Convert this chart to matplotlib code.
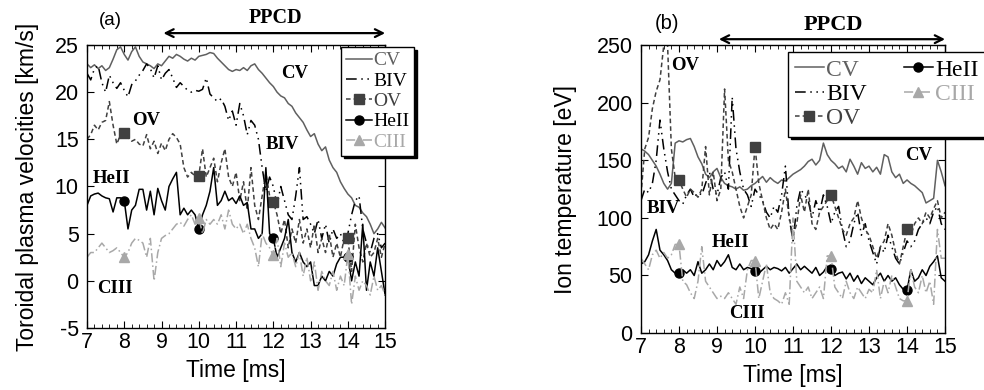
import numpy as np
import matplotlib
matplotlib.use('Agg')
import matplotlib.pyplot as plt
from matplotlib.ticker import AutoMinorLocator

plt.rcParams['font.family'] = 'Liberation Sans'
plt.rcParams['axes.unicode_minus'] = False

# time axis, 0.1 ms sampling
t = np.round(np.arange(7.0, 15.01, 0.1), 1)

# (a) toroidal plasma velocities [km/s]
vel_cv = [23.0, 22.6, 22.9, 22.5, 22.8, 22.3, 22.6, 23.5, 24.5, 24.8,
          24.0, 23.4, 24.3, 24.8, 23.8, 23.2, 23.0, 22.8, 22.5, 23.0,
          22.8, 23.3, 23.8, 23.6, 24.0, 23.8, 23.5, 23.3, 23.6, 23.4,
          23.8, 23.9, 24.0, 24.2, 24.1, 23.6, 23.2, 22.8, 22.4, 22.2,
          22.4, 22.3, 22.6, 22.3, 22.8, 23.0, 22.4, 22.0, 21.5, 21.0,
          20.6, 20.0, 19.6, 19.4, 18.8, 18.5, 17.8, 17.3, 16.8, 16.0,
          15.3, 15.6, 14.5, 13.8, 14.2, 12.8, 12.0, 11.5, 10.5, 9.8,
          9.2, 8.8, 8.0, 7.8, 7.2, 6.8, 6.0, 5.0, 5.5, 6.2, 5.6]
vel_biv = [22.0, 21.3, 22.5, 22.8, 21.0, 20.0, 21.8, 21.0, 20.4, 21.0,
           20.2, 19.5, 20.8, 21.2, 21.8, 22.3, 23.0, 22.5, 21.5, 22.8,
           21.3, 22.0, 22.4, 21.5, 20.5, 21.0, 20.6, 20.2, 20.0, 20.2,
           20.1, 20.3, 21.5, 19.8, 19.4, 19.0, 19.3, 18.5, 17.0, 18.0,
           16.5, 18.8, 17.5, 15.5, 17.0, 16.5, 15.0, 12.0, 9.5, 11.0,
           10.0, 8.0, 10.0, 8.5, 7.0, 6.5, 9.0, 12.0, 6.5, 6.8,
           6.0, 5.0, 6.5, 4.5, 6.0, 4.0, 5.5, 4.5, 5.0, 4.0,
           5.0, 7.0, 8.5, 9.0, 5.5, 4.0, 3.0, 4.5, 5.0, 3.5, 4.0]
vel_ov = [15.0, 15.5, 16.5, 16.0, 16.8, 17.0, 19.0, 16.5, 14.5, 15.5,
          15.7, 15.2, 14.8, 15.0, 14.5, 14.3, 15.5, 14.0, 14.8, 13.5,
          14.6, 13.8, 15.0, 15.6, 15.2, 14.5, 12.0, 11.0, 11.5, 11.1,
          11.1, 14.0, 11.0, 12.0, 13.0, 10.5, 12.5, 14.0, 11.0, 10.0,
          11.5, 8.5, 10.5, 7.5, 12.0, 8.0, 6.5, 9.0, 11.5, 9.0,
          8.4, 7.0, 5.0, 6.5, 3.5, 5.5, 4.0, 6.5, 4.0, 5.5,
          3.5, 6.0, 3.0, 4.5, 3.0, 5.0, 2.5, 4.0, 2.5, 4.5,
          4.5, 1.0, 6.0, 3.5, 2.0, 4.0, 2.5, 3.0, 4.5, 2.5, 4.0]
vel_heii = [8.0, 9.0, 9.2, 9.3, 9.0, 8.8, 8.7, 7.3, 8.8, 8.8,
            8.5, 5.5, 7.5, 8.0, 9.7, 9.7, 7.5, 9.5, 7.0, 9.8,
            8.5, 7.5, 10.0, 10.8, 11.5, 7.0, 7.7, 7.0, 7.5, 7.0,
            5.5, 7.0, 8.0, 9.5, 12.0, 8.0, 8.5, 9.5, 8.5, 8.8,
            8.2, 9.0, 8.0, 8.3, 5.5, 5.5, 4.5, 5.0, 12.0, 5.0,
            4.5, 2.5, 3.5, 4.5, 6.5, 3.0, 2.0, 3.0, 2.0, 1.5,
            2.0, -0.5, -0.5, 0.5, 0.0, 1.0, 0.5, 1.8, 2.5, 2.5,
            2.5, 0.0, 2.0, 0.5, 6.0, -1.0, 2.0, 0.5, 3.5, 1.0, -1.5]
vel_ciii = [2.5, 3.0, 3.0, 3.5, 4.0, 3.5, 3.0, 3.2, 3.5, 3.0,
            2.5, 3.0, 4.0, 4.5, 4.3, 4.0, 2.5, 4.5, 0.0, 3.0,
            4.5, 4.8, 5.0, 5.5, 6.0, 6.2, 5.8, 6.5, 7.0, 6.0,
            6.7, 5.0, 6.5, 6.0, 6.5, 6.0, 7.0, 5.5, 7.5, 6.0,
            5.5, 6.0, 5.0, 6.0, 4.5, 3.5, 1.5, 5.0, 4.0, 3.5,
            2.7, 4.5, 1.5, 4.0, 2.5, 3.0, 1.5, 3.0, 0.5, 2.5,
            0.0, 2.0, -1.0, 1.0, 0.0, -0.5, 1.0, -1.0, 0.5, -0.5,
            2.8, -2.5, 0.5, -1.0, 0.0, -0.5, -1.5, 0.5, -1.0, -0.5, -1.5]

# (b) ion temperature [eV]
ti_cv = [160, 158, 155, 150, 145, 138, 130, 125, 130, 165,
         167, 166, 168, 169, 162, 153, 147, 138, 135, 140,
         143, 135, 130, 128, 127, 125, 127, 124, 125, 128,
         130, 133, 136, 131, 135, 132, 130, 133, 132, 135,
         138, 140, 142, 145, 149, 151, 146, 150, 165, 155,
         150, 147, 143, 145, 140, 151, 145, 138, 148, 143,
         145, 140, 144, 138, 155, 153, 140, 135, 138, 130,
         133, 130, 128, 125, 122, 113, 115, 117, 150, 140, 128]
ti_biv = [115, 125, 122, 130, 150, 185, 160, 140, 125, 120,
          115, 112, 120, 125, 118, 122, 120, 130, 140, 125,
          120, 135, 140, 125, 205, 160, 140, 125, 120, 110,
          125, 120, 115, 105, 100, 110, 105, 120, 145, 100,
          80, 110, 125, 120, 115, 100, 115, 105, 120, 110,
          95, 105, 110, 90, 75, 80, 95, 105, 85, 95,
          80, 70, 60, 75, 70, 85, 75, 65, 60, 70,
          80, 75, 80, 90, 95, 100, 95, 105, 110, 95, 90]
ti_ov = [120, 160, 170, 195, 210, 220, 250, 250, 160, 135,
         133, 125, 118, 125, 122, 118, 125, 162, 120, 140,
         115, 125, 212, 150, 140, 125, 110, 100, 110, 120,
         162, 130, 115, 100, 90, 95, 90, 105, 125, 100,
         85, 95, 120, 105, 125, 95, 90, 105, 110, 115,
         120, 110, 100, 90, 85, 95, 100, 115, 100, 90,
         85, 75, 65, 75, 80, 95, 85, 70, 60, 75,
         90, 85, 95, 100, 95, 105, 100, 108, 115, 100, 105]
ti_heii = [60, 62, 68, 80, 90, 72, 68, 63, 55, 52,
           52, 55, 52, 55, 50, 62, 52, 55, 60, 55,
           63, 58, 62, 68, 57, 55, 60, 55, 57, 56,
           54, 52, 55, 58, 55, 57, 56, 54, 57, 52,
           56, 60, 55, 58, 55, 52, 57, 50, 53, 58,
           56, 50, 52, 53, 47, 52, 45, 50, 43, 48,
           45, 42, 48, 52, 45, 50, 45, 48, 42, 38,
           37, 55, 45, 48, 55, 50, 58, 62, 67, 48, 45]
ti_ciii = [65, 60, 55, 68, 72, 65, 70, 65, 68, 77,
           77, 45, 42, 35, 30, 45, 75, 45, 40, 35,
           30, 32, 30, 35, 30, 25, 40, 30, 55, 63,
           63, 30, 45, 60, 35, 30, 28, 25, 35, 25,
           100, 45, 40, 35, 40, 30, 35, 40, 30, 67,
           67, 40, 35, 30, 45, 35, 30, 40, 35, 30,
           38, 35, 55, 30, 45, 35, 50, 40, 30, 28,
           28, 55, 40, 35, 50, 35, 45, 25, 90, 65, 65]

mark_idx = [10, 30, 50, 70]

names = ['CV', 'BIV', 'OV', 'HeII', 'CIII']
colors = ['#606060', 'black', '#404040', 'black', '#a8a8a8']
styles = ['-', (0, (7, 3, 1, 3, 1, 3)), (0, (3, 2)), '-', (0, (6, 2, 1, 2))]
markers = [None, None, 's', 'o', '^']
msizes = [0, 0, 7, 6.5, 6.5]

fig = plt.figure(figsize=(9.84, 3.9), dpi=100)
ax1 = fig.add_axes([0.0884, 0.159, 0.303, 0.7256])
ax2 = fig.add_axes([0.6514, 0.146, 0.309, 0.738])

for ax, series in [(ax1, [vel_cv, vel_biv, vel_ov, vel_heii, vel_ciii]),
                   (ax2, [ti_cv, ti_biv, ti_ov, ti_heii, ti_ciii])]:
    for name, y, c, ls, m, ms in zip(names, series, colors, styles, markers, msizes):
        ax.plot(t, y, color=c, linestyle=ls, linewidth=1.1, marker=m,
                markevery=mark_idx, markersize=ms, label=name)

    ax.set_xlim(7, 15)
    ax.set_xticks(range(7, 16))
    ax.xaxis.set_minor_locator(AutoMinorLocator(5))
    ax.tick_params(which='both', direction='in', top=True, right=True, labelsize=15.5)
    ax.tick_params(which='major', length=5)
    ax.tick_params(which='minor', length=3)
    ax.tick_params(axis='x', pad=3)
    ax.tick_params(axis='y', pad=6)
    ax.set_xlabel('Time [ms]', fontsize=16.5, labelpad=4)
    for sp in ax.spines.values():
        sp.set_linewidth(1.0)

ax1.set_ylim(-5, 25)
ax1.set_yticks(range(-5, 26, 5))
ax1.set_ylabel('Toroidal plasma velocities [km/s]', fontsize=16.5, labelpad=11)
ax2.set_ylim(0, 250)
ax2.set_yticks(range(0, 251, 50))
ax2.set_ylabel('Ion temperature [eV]', fontsize=16.5, labelpad=14)

serif = 'Liberation Serif'
shadow = {'color': 'black', 'alpha': 1.0}
leg1 = ax1.legend(loc='upper left', bbox_to_anchor=(0.852, 0.993), borderaxespad=0,
                  prop={'family': serif, 'size': 14},
                  labelcolor='linecolor', handlelength=1.35, handletextpad=0.05, borderpad=0.25,
                  labelspacing=0.14, fancybox=False, framealpha=1, edgecolor='black', shadow=shadow)
leg1.get_frame().set_linewidth(1.0)
leg2 = ax2.legend(loc='upper left', bbox_to_anchor=(0.484, 0.976), borderaxespad=0, ncol=2,
                  prop={'family': serif, 'size': 17},
                  labelcolor='linecolor', handlelength=1.2, handletextpad=0.1, borderpad=0.3,
                  labelspacing=0.12, columnspacing=1.6, fancybox=False, framealpha=1,
                  edgecolor='black', shadow=shadow)
leg2.get_frame().set_linewidth(1.0)

# species labels
bold = dict(family=serif, fontweight='bold', fontsize=13.5, ha='center', va='center')
ax1.text(12.58, 22.0, 'CV', **bold)
ax1.text(8.6, 17.0, 'OV', **bold)
ax1.text(12.25, 14.4, 'BIV', **bold)
ax1.text(7.67, 10.8, 'HeII', **bold)
ax1.text(7.75, -0.8, 'CIII', **bold)
ax2.text(8.16, 232, 'OV', **bold)
ax2.text(14.3, 154, 'CV', **bold)
ax2.text(7.58, 108, 'BIV', **bold)
ax2.text(9.35, 79, 'HeII', **bold)
ax2.text(9.8, 17, 'CIII', **bold)

# PPCD arrows
for ax, ya, yt, fs, tag, xtag, ytag, tfs in [(ax1, 1.042, 1.095, 14.5, '(a)', 7.64, 1.088, 13.5),
                                             (ax2, 1.021, 1.069, 16, '(b)', 7.68, 1.076, 14.5)]:
    ax.annotate('', xy=(15, ya), xytext=(9.05, ya), xycoords=('data', 'axes fraction'),
                arrowprops=dict(arrowstyle='<->', color='black', lw=1.6,
                                shrinkA=0, shrinkB=0, mutation_scale=14),
                annotation_clip=False)
    ax.text(12.05, yt, 'PPCD', transform=ax.get_xaxis_transform(), ha='center', va='center',
            family=serif, fontweight='bold', fontsize=fs)
    ax.text(xtag, ytag, tag, transform=ax.get_xaxis_transform(), ha='center', va='center',
            fontsize=tfs)

fig.savefig('out.png', dpi=100)
